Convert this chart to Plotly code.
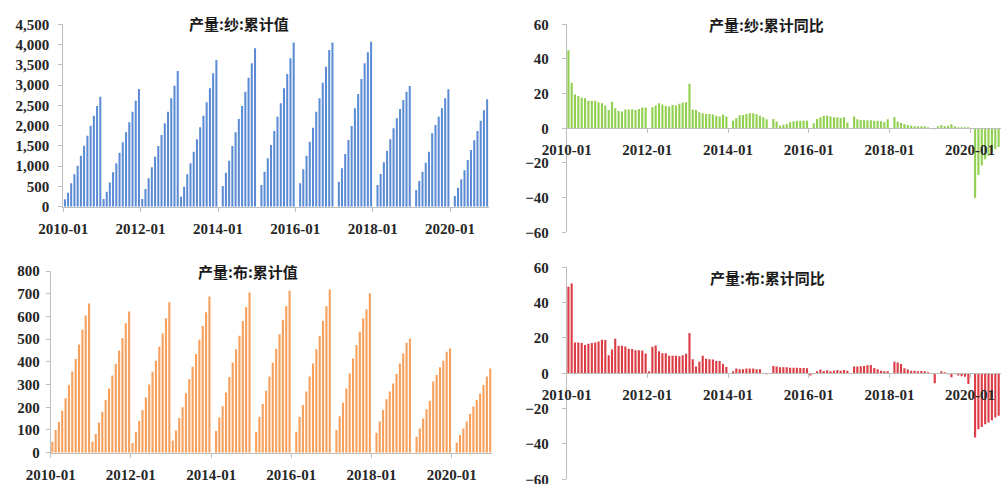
import plotly.graph_objects as go

# ---------------- data ----------------
months = [f"{y}-{m:02d}-01" for y in range(2010, 2021) for m in range(1, 13)]
tick_dates = ["2010-01-01", "2012-01-01", "2014-01-01", "2016-01-01", "2018-01-01", "2020-01-01"]
tick_labels = ["2010-01", "2012-01", "2014-01", "2016-01", "2018-01", "2020-01"]

yarn_cum = [
    181, 345, 576, 798, 1012, 1259, 1506, 1752, 1999, 2246, 2485, 2715,
    190, 370, 600, 847, 1070, 1333, 1588, 1835, 2081, 2345, 2616, 2904,
    190, 436, 699, 971, 1234, 1497, 1769, 2057, 2345, 2674, 2986, 3348,
    247, 494, 798, 1070, 1357, 1662, 1958, 2246, 2575, 2921, 3291, 3620,
    None, 510, 839, 1135, 1497, 1835, 2164, 2485, 2838, 3184, 3538, 3908,
    None, 535, 864, 1193, 1522, 1868, 2221, 2550, 2921, 3274, 3661, 4048,
    None, 576, 921, 1259, 1604, 1950, 2345, 2674, 3060, 3455, 3867, 4048,
    None, 617, 946, 1300, 1645, 1991, 2427, 2781, 3151, 3538, 3809, 4072,
    None, 535, 806, 1094, 1374, 1662, 1933, 2180, 2410, 2633, 2838, 2978,
    None, 411, 633, 864, 1086, 1357, 1810, 2016, 2221, 2427, 2674, 2896,
    None, 263, 470, 680, 900, 1150, 1400, 1640, 1870, 2120, 2380, 2650,
]

yarn_yoy = [
    45, 26.3, 19.5, 18.6, 17.6, 17.4, 15.9, 15.9, 15.9, 15, 14.5, 13.2,
    10.6, 15.3, 11.6, 10, 9.7, 10.8, 10.8, 11, 10.6, 11.2, 12, 12,
    None, 12.2, 13.2, 14.5, 13.7, 12.8, 12.6, 13.5, 13.2, 14.1, 14.9, 15,
    25.7, 10.8, 10.6, 9.3, 8.7, 8.3, 8.3, 7.9, 7.2, 6.8, 7.9, 6.8,
    None, 4.4, 5.8, 7.5, 7.7, 8.3, 8.7, 8.7, 8.1, 7.2, 6.4, 5.2,
    None, 5.4, 3.9, 1.5, 2, 2.5, 3.5, 4, 4.3, 4.3, 4.3, 4.3,
    None, 2.9, 5.4, 6.4, 7.3, 7.2, 6.8, 6.4, 6.4, 6, 6.4, 3.3,
    None, 6.8, 5.2, 4.8, 4.6, 4.6, 4.6, 4.4, 4.3, 4.1, 3.5, 5.2,
    None, 6.4, 3.9, 3.1, 2.5, 1.9, 1.4, 1, 0.8, 0.6, 0.6, 0.4,
    None, -0.4, 1, 1.9, 1, 1.5, 2.3, 0.6, 0.4, 0.1, 0.1, 0.1,
    None, -40, -27, -21.5, -17.8, -15.9, -14, -12, -10.8, -9.6, -8.7, -7.8,
]

cloth_cum = [
    48, 100, 135, 185, 240, 297, 357, 413, 476, 541, 604, 657,
    48, 82, 133, 180, 232, 283, 340, 392, 450, 505, 570, 622,
    43, 92, 140, 188, 244, 300, 356, 405, 467, 525, 592, 662,
    54, 98, 153, 200, 262, 323, 378, 435, 497, 558, 618, 688,
    None, 95, 155, 205, 265, 333, 397, 455, 515, 580, 640, 705,
    None, 92, 158, 214, 273, 335, 396, 458, 521, 584, 646, 713,
    None, 92, 158, 210, 269, 335, 393, 455, 514, 581, 646, 719,
    None, 100, 161, 220, 283, 349, 415, 474, 533, 592, 631, 702,
    None, 88, 137, 188, 235, 269, 305, 346, 393, 437, 484, 503,
    None, 70, 107, 151, 191, 229, 313, 342, 376, 405, 445, 459,
    None, 44, 78, 107, 137, 170, 203, 232, 261, 298, 335, 371,
]

cloth_yoy = [
    49, 50.8, 17.5, 17.5, 17.1, 16, 16.7, 17.1, 17.5, 18, 19, 18.8,
    10.2, 13.5, 19.5, 15.6, 15.6, 15.2, 13.9, 13.7, 13.1, 13.1, 12.9, 11.2,
    0.8, 15, 15.7, 12.5, 11.4, 11.4, 10, 10, 10, 9.7, 10.2, 11,
    22.8, 8, 3.8, 6.5, 10, 8.3, 8, 7.8, 7, 7, 5.3, 3.6,
    None, 0.6, 2.7, 2.3, 2.3, 2.7, 2.7, 2.7, 2.3, 2.3, None, -0.5,
    None, 4.2, 3.8, 3.4, 3.4, 3.4, 3.2, 3.2, 3.2, 3, 3, 2.8,
    -1.3, -0.4, 1.1, 2.1, 1.3, 1.7, 1.1, 1.5, 1.9, 1.5, 1.9, 1.5,
    None, 3.8, 3.8, 4, 4.2, 4.6, 4.7, 3, 2.3, 1.5, 1.1, 0.9,
    None, 6.5, 6.1, 5.3, 2.8, 2.1, 1.5, 1.5, 1.1, 1.3, 0.6, 0.2,
    None, -5.7, 0, 0.6, 0.2, -0.2, -2.3, -0.4, -1.3, -1.7, -1.9, -6,
    None, -36.4, -31.7, -30.4, -28.8, -27.9, -26.6, -25, -24, -22.5, -21, -20,
]

titles = ["产量:纱:累计值", "产量:纱:累计同比", "产量:布:累计值", "产量:布:累计同比"]

# ---------------- layout helpers ----------------
W, H = 1001, 484
def fx(p):
    return p / W
def fy(p):
    return 1 - p / H

AX = "#bfbfbf"
TXT = "#262626"
tickfont = dict(family="Liberation Serif, Times New Roman, serif", size=15, color=TXT, weight="bold")

fig = go.Figure()

def add_bar(y, color, xa, ya):
    fig.add_trace(go.Bar(
        x=months, y=y, xaxis=xa, yaxis=ya,
        xperiod="M1", xperiodalignment="middle",
        marker=dict(color=color, line=dict(width=0)),
        showlegend=False,
    ))

add_bar(yarn_cum, "#5b8bd4", "x", "y")
add_bar(yarn_yoy, "#92d050", "x2", "y2")
add_bar(cloth_cum, "#f7a05c", "x3", "y3")
add_bar(cloth_yoy, "#dc3c44", "x4", "y4")

def xaxis(dom, rng, anchor=None, position=None, standoff=None):
    d = dict(
        type="date", domain=dom, range=rng,
        tickvals=tick_dates, ticktext=tick_labels,
        showline=True, linecolor=AX, linewidth=1,
        ticks="outside", ticklen=4, tickcolor=AX,
        showgrid=False, zeroline=False, tickfont=tickfont,
        fixedrange=True, automargin=False, ticklabeloverflow="allow",
    )
    if anchor:
        d["anchor"] = anchor
    if position is not None:
        d["anchor"] = "free"
        d["position"] = position
    if standoff is not None:
        d["ticklabelstandoff"] = standoff
    return d

def yaxis(dom, rng, dtick, anchor, fmt=None, standoff=None):
    d = dict(
        domain=dom, range=rng, dtick=dtick, tick0=0, anchor=anchor,
        showline=True, linecolor=AX, linewidth=1,
        ticks="outside", ticklen=4, tickcolor=AX,
        showgrid=False, zeroline=False, tickfont=tickfont,
        fixedrange=True, automargin=False, ticklabeloverflow="allow",
    )
    if fmt:
        d["tickformat"] = fmt
    if standoff is not None:
        d["ticklabelstandoff"] = standoff
    return d

fig.update_layout(
    template="none",
    width=W, height=H,
    margin=dict(l=0, r=0, t=0, b=0, pad=0),
    paper_bgcolor="white", plot_bgcolor="white",
    bargap=0.35,
    xaxis=xaxis([fx(63.3), fx(488.8)], ["2010-01-01", "2021-01-01"], anchor="y", standoff=4),
    yaxis=yaxis([fy(206.7), fy(24.3)], [0, 4500], 500, "x", fmt=",", standoff=6),
    xaxis2=xaxis([fx(566.7), 1.0], ["2010-01-01", "2020-10-07"], position=fy(127.7), standoff=4),
    yaxis2=yaxis([fy(232.3), fy(24.3)], [-60.001, 60], 20, "x2", standoff=10),
    xaxis3=xaxis([fx(50.7), fx(491.9)], ["2010-01-01", "2021-01-01"], anchor="y3", standoff=4),
    yaxis3=yaxis([fy(452.7), fy(271)], [0, 800], 100, "x3", standoff=3),
    xaxis4=xaxis([fx(566.7), 1.0], ["2010-01-01", "2020-10-07"], position=fy(372.7), standoff=4),
    yaxis4=yaxis([fy(479.3), fy(267.3)], [-60.001, 60], 20, "x4", standoff=10),
)

title_pos = [(239, 23), (766, 24), (248, 271), (767, 277)]
for t, (cx, cy) in zip(titles, title_pos):
    fig.add_annotation(
        text=t, x=fx(cx), y=fy(cy), xref="paper", yref="paper",
        xanchor="center", yanchor="middle", showarrow=False,
        font=dict(family="Noto Sans CJK SC", size=15, color="#1a1a1a", weight="bold"),
    )

fig.write_html(
    "out.html",
    config={"displayModeBar": False},
    post_script="document.body.style.margin='0';document.body.style.overflow='hidden';",
)
